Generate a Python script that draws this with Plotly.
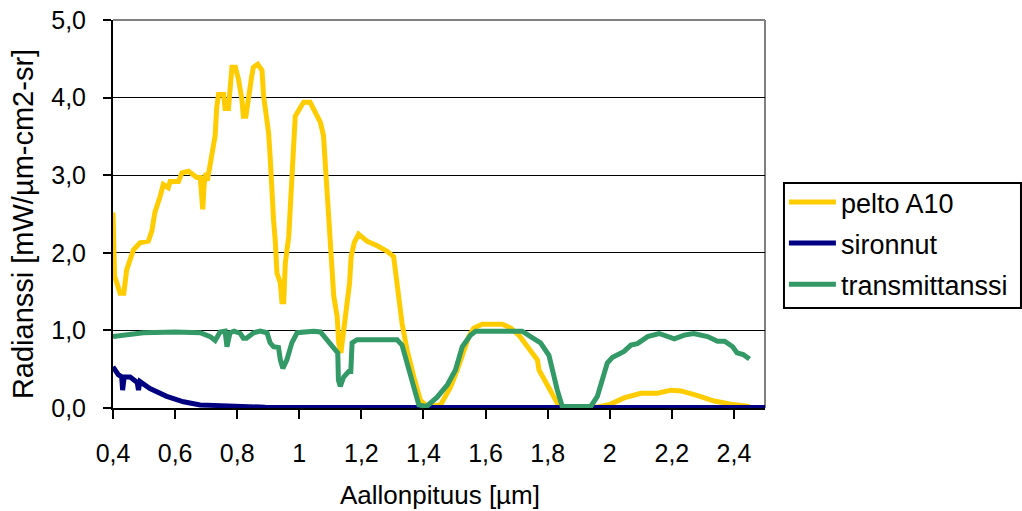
import plotly.graph_objects as go

# ---- data ----
pelto_x = [0.400, 0.405, 0.423, 0.435, 0.444, 0.466, 0.487, 0.514, 0.525, 0.535,
           0.552, 0.562, 0.578, 0.584, 0.611, 0.622, 0.643, 0.670, 0.681, 0.689,
           0.694, 0.700, 0.704, 0.713, 0.724, 0.729, 0.734, 0.740, 0.756, 0.761,
           0.772, 0.776, 0.783, 0.794, 0.804, 0.815, 0.820, 0.828, 0.836, 0.847,
           0.852, 0.866, 0.880, 0.885, 0.894, 0.901, 0.906, 0.912, 0.917, 0.923,
           0.928, 0.939, 0.944, 0.950, 0.955, 0.966, 0.971, 0.976, 0.982, 0.987,
           1.003, 1.014, 1.035, 1.052, 1.068, 1.078, 1.084, 1.089, 1.095, 1.100,
           1.105, 1.111, 1.122, 1.127, 1.134, 1.143, 1.154, 1.162, 1.167, 1.177,
           1.191, 1.218, 1.251, 1.283, 1.304, 1.310, 1.320, 1.331, 1.347, 1.369,
           1.390, 1.406, 1.430, 1.455, 1.487, 1.509, 1.530, 1.546, 1.562, 1.589,
           1.654, 1.681, 1.707, 1.734, 1.767, 1.772, 1.794, 1.815, 1.837, 1.900,
           1.960, 2.003, 2.046, 2.100, 2.154, 2.197, 2.230, 2.283, 2.337, 2.390, 2.450]
pelto_y = [2.52, 1.70, 1.48, 1.48, 1.78, 2.04, 2.13, 2.15, 2.28, 2.52,
           2.73, 2.88, 2.84, 2.92, 2.92, 3.03, 3.05, 2.97, 2.97, 2.56,
           2.90, 3.03, 2.93, 3.14, 3.33, 3.51, 3.87, 4.04, 4.04, 3.86,
           3.86, 4.11, 4.39, 4.39, 4.24, 3.98, 3.76, 3.76, 4.02, 4.28,
           4.39, 4.43, 4.35, 4.02, 3.76, 3.55, 3.25, 2.73, 2.43, 2.13,
           1.74, 1.61, 1.37, 1.37, 1.87, 2.21, 2.56, 2.90, 3.38, 3.76,
           3.87, 3.94, 3.94, 3.81, 3.68, 3.51, 3.16, 2.73, 2.39, 2.04,
           1.78, 1.44, 1.18, 0.84, 0.71, 1.01, 1.35, 1.61, 1.95, 2.13,
           2.24, 2.15, 2.09, 2.02, 1.95, 1.70, 1.44, 1.09, 0.75, 0.40,
           0.10, 0.04, 0.03, 0.04, 0.27, 0.49, 0.75, 0.92, 1.03, 1.08,
           1.08, 1.03, 0.94, 0.79, 0.62, 0.49, 0.34, 0.19, 0.02, 0.01,
           0.01, 0.05, 0.13, 0.19, 0.19, 0.23, 0.22, 0.16, 0.09, 0.05, 0.02]

sironnut_x = [0.400, 0.417, 0.428, 0.431, 0.436, 0.455, 0.478, 0.482, 0.487, 0.519,
              0.573, 0.627, 0.681, 0.788, 0.890, 1.100, 2.500]
sironnut_y = [0.53, 0.43, 0.40, 0.23, 0.40, 0.40, 0.33, 0.23, 0.34, 0.25,
              0.15, 0.08, 0.04, 0.02, 0.01, 0.005, 0.005]

trans_x = [0.400, 0.433, 0.498, 0.600, 0.681, 0.713, 0.729, 0.745, 0.761, 0.767,
           0.777, 0.790, 0.810, 0.820, 0.830, 0.853, 0.874, 0.896, 0.906, 0.917,
           0.933, 0.939, 0.947, 0.960, 0.976, 0.993, 1.046, 1.068, 1.089, 1.111,
           1.124, 1.126, 1.132, 1.143, 1.159, 1.166, 1.170, 1.186, 1.315, 1.331,
           1.347, 1.369, 1.385, 1.410, 1.444, 1.477, 1.503, 1.525, 1.552, 1.568,
           1.718, 1.745, 1.777, 1.804, 1.815, 1.831, 1.847, 1.939, 1.960, 1.976,
           1.992, 2.008, 2.046, 2.068, 2.089, 2.122, 2.159, 2.208, 2.240, 2.270,
           2.315, 2.347, 2.370, 2.396, 2.410, 2.430, 2.450]
trans_y = [0.92, 0.94, 0.97, 0.98, 0.97, 0.92, 0.87, 0.98, 0.99, 0.79,
           0.97, 0.99, 0.96, 0.90, 0.90, 0.97, 0.99, 0.97, 0.84, 0.79,
           0.78, 0.62, 0.51, 0.62, 0.84, 0.97, 0.99, 0.98, 0.88, 0.77,
           0.71, 0.36, 0.28, 0.40, 0.47, 0.47, 0.84, 0.88, 0.88, 0.81,
           0.58, 0.32, 0.04, 0.02, 0.14, 0.30, 0.49, 0.79, 0.94, 0.99,
           0.99, 0.92, 0.84, 0.68, 0.49, 0.23, 0.02, 0.02, 0.15, 0.36,
           0.58, 0.65, 0.73, 0.81, 0.83, 0.92, 0.96, 0.89, 0.94, 0.96,
           0.92, 0.86, 0.86, 0.79, 0.71, 0.69, 0.63]

x_tickvals = [0.4, 0.6, 0.8, 1.0, 1.2, 1.4, 1.6, 1.8, 2.0, 2.2, 2.4]
x_ticktext = ["0,4", "0,6", "0,8", "1", "1,2", "1,4", "1,6", "1,8", "2", "2,2", "2,4"]
y_tickvals = [0, 1, 2, 3, 4, 5]

series_names = ["pelto A10", "sironnut", "transmittanssi"]
series_colors = ["#FFCC00", "#000080", "#339966"]
x_title = "Aallonpituus [µm]"
y_title = "Radianssi [mW/µm-cm2-sr]"

FONT = "Liberation Sans, Arial, sans-serif"

fig = go.Figure()
for name, xs, ys, col in zip(series_names,
                             [pelto_x, sironnut_x, trans_x],
                             [pelto_y, sironnut_y, trans_y],
                             series_colors):
    fig.add_trace(go.Scatter(x=xs, y=ys, mode="lines", name=name,
                             legendgroup=name,
                             line=dict(color=col, width=5)))

fig.update_layout(
    template="none",
    width=1022, height=511,
    margin=dict(l=113, r=257, t=20, b=103, autoexpand=False),
    paper_bgcolor="white", plot_bgcolor="white",
    separators=", ",
    font=dict(family=FONT, size=25, color="black"),
    showlegend=True,
    legend=dict(x=1.029, xanchor="left", y=0.5929, yanchor="top",
                borderwidth=0, bgcolor="rgba(0,0,0,0)",
                font=dict(size=27), tracegroupgap=3, itemwidth=47),
    xaxis=dict(range=[0.4, 2.5], tickvals=x_tickvals, ticktext=x_ticktext,
               automargin=False,
               showgrid=False, zeroline=False, showline=True,
               linecolor="black", linewidth=2, ticks="outside", ticklen=9,
               tickwidth=2, tickcolor="black", ticklabelstandoff=13,
               layer="below traces"),
    yaxis=dict(range=[0, 5], tickvals=y_tickvals, tickformat=".1f",
               automargin=False,
               showgrid=True, gridcolor="black", gridwidth=1.3,
               zeroline=False, showline=True, linecolor="black", linewidth=2,
               ticks="outside", ticklen=8, tickwidth=2, tickcolor="black",
               ticklabelstandoff=12, layer="below traces"),
    annotations=[
        dict(text=x_title, xref="paper", yref="paper", x=0.5023, y=-0.2242,
             xanchor="center", yanchor="middle", showarrow=False,
             font=dict(size=26)),
        dict(text=y_title, xref="paper", yref="paper", x=-0.138, y=0.474,
             xanchor="center", yanchor="middle", showarrow=False,
             textangle=-90, font=dict(size=29)),
    ],
    shapes=[
        dict(type="line", xref="paper", yref="paper", x0=0, x1=1, y0=1, y1=1,
             line=dict(color="#808080", width=2), layer="above"),
        dict(type="line", xref="paper", yref="paper", x0=1, x1=1, y0=0, y1=1,
             line=dict(color="#808080", width=2), layer="below"),
        # legend frame
        dict(type="rect", xref="paper", yref="paper",
             x0=1.0291, x1=1.3926, y0=0.2577, y1=0.5799,
             line=dict(color="black", width=2), fillcolor="white", layer="below"),
    ],
)

fig.write_html("out.html")
